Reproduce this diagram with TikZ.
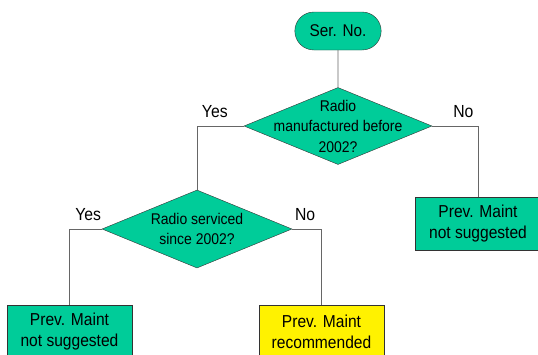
\documentclass[tikz,border=0pt]{standalone}
\usepackage{fontspec}
\setmainfont[FakeStretch=0.9]{Liberation Sans}
\usepackage{xcolor}
\usetikzlibrary{positioning,shapes.geometric,shapes.misc}
\definecolor{flowgreen}{RGB}{0,204,153}

\begin{document}
\begin{tikzpicture}[
  x=1pt, y=-1pt,
  terminal/.style={rounded rectangle, draw=black!80, thin, fill=flowgreen, minimum width=93pt, minimum height=38pt, font=\fontsize{17}{20}\selectfont},
  decision/.style={diamond, draw=black!80, thin, fill=flowgreen, minimum width=188pt, minimum height=77pt, inner xsep=-70pt, inner ysep=-35pt, align=center, font=\fontsize{15.5}{20.5}\selectfont},
  outcome/.style={rectangle, draw=black!80, thin, fill=flowgreen, minimum width=125pt, minimum height=53pt, align=center, font=\fontsize{17.3}{21}\selectfont},
  answer/.style={anchor=base, inner sep=0pt, yshift=8.5pt, font=\fontsize{17.5}{20}\selectfont},
  link/.style={draw=black!60, line width=0.8pt}
]
  \useasboundingbox (0,0) rectangle (538,354);

  % Start
  \node[terminal] (serno) at (338, 31) {Ser. No.};

  % Decisions
  \node[decision] (made) at (338, 126) {Radio\\manufactured before\\2002?};
  \node[decision, minimum width=190pt, minimum height=78pt] (serv) at (197, 229) {Radio serviced\\since 2002?};

  % Outcomes
  \node[outcome] (nosug1) at (478, 224) {Prev. Maint\\not suggested};
  \node[outcome] (nosug2) at (69.5, 331.5) {Prev. Maint\\not suggested};
  \node[outcome, fill=yellow] (recomm) at (321.5, 331.5) {Prev. Maint\\recommended};

  % Connections
  \path[link] (serno) -- (made);
  \path[link] (made.west) -| node[answer, pos=0.31] (yes1) {Yes} (serv.north);
  \path[link] (made.east) -| node[answer, pos=0.34] (no1) {No} (nosug1.north);
  \path[link] (serv.west) -| node[answer, pos=0.21] (yes2) {Yes} (nosug2.north);
  \path[link] (serv.east) -| node[answer, pos=0.22] (no2) {No} (recomm.north);
\end{tikzpicture}
\end{document}
